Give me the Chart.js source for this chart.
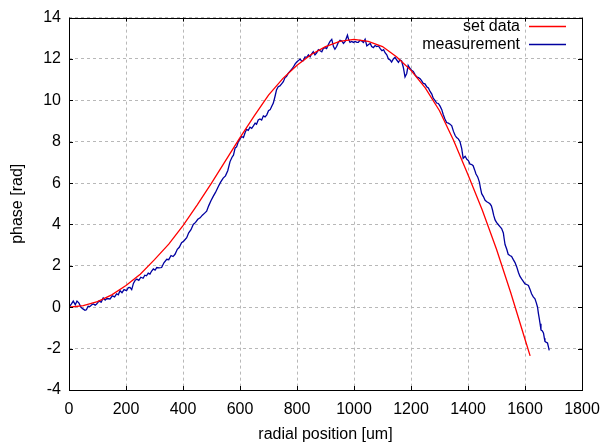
<!doctype html>
<html>
<head>
    <meta charset="utf-8">
    <title>phase</title>
    <script src="https://cdn.jsdelivr.net/npm/chart.js"></script>
    <style>
        body { margin: 0; background: #fff; }
    </style>
</head>
<body>
<canvas id="myChart" width="610" height="446"></canvas>

<script>
    // set data (red)
    var setX = [0, 50, 100, 150, 200, 250, 300, 350, 400, 450, 500, 550, 600, 650, 700, 750, 800, 850, 900, 950,
        1000, 1050, 1100, 1150, 1200, 1250, 1300, 1350, 1400, 1450, 1500, 1550, 1600, 1618];
    var setY = [0, 0.08, 0.27, 0.6, 1.05, 1.6, 2.3, 3.05, 3.95, 4.95, 6.0, 7.1, 8.2, 9.25, 10.25, 11.05, 11.7, 12.22, 12.6, 12.85,
        12.95, 12.85, 12.6, 12.1, 11.45, 10.6, 9.5, 8.05, 6.4, 4.7, 2.8, 0.7, -1.55, -2.35];

    // measurement (blue)
    var measX = [0, 8, 15, 22, 28, 35, 42, 49, 56, 61, 67, 73, 80, 85, 92, 97, 105, 113, 120, 127,
        133, 144, 152, 160, 167, 173, 179, 186, 193, 202, 208, 214, 220, 226, 232, 238, 245, 252, 260, 266,
        272, 278, 284, 290, 296, 302, 308, 316, 325, 333, 343, 350, 358, 365, 372, 380, 387, 395, 403, 413,
        420, 428, 436, 444, 452, 460, 468, 476, 483, 490, 498, 506, 514, 524, 532, 541, 549, 557, 565, 572,
        577, 583, 588, 594, 600, 606, 612, 618, 623, 629, 635, 641, 647, 653, 658, 664, 670, 676, 682, 688,
        694, 700, 706, 711, 717, 723, 728, 734, 740, 746, 752, 758, 763, 769, 775, 781, 787, 793, 799, 805,
        811, 816, 822, 828, 834, 840, 846, 851, 857, 863, 869, 875, 881, 887, 892, 898, 904, 910, 916, 922,
        928, 933, 939, 945, 951, 957, 963, 969, 973, 977, 981, 986, 992, 998, 1004, 1010, 1015, 1021, 1027, 1033,
        1039, 1045, 1051, 1057, 1062, 1068, 1074, 1080, 1086, 1092, 1098, 1104, 1109, 1115, 1121, 1127, 1132, 1138, 1144, 1150,
        1156, 1161, 1167, 1173, 1179, 1185, 1190, 1196, 1202, 1208, 1214, 1220, 1226, 1232, 1237, 1243, 1249, 1255, 1261, 1267,
        1273, 1278, 1284, 1290, 1296, 1302, 1308, 1313, 1319, 1325, 1331, 1337, 1343, 1349, 1355, 1360, 1366, 1372, 1378, 1383,
        1390, 1396, 1401, 1407, 1413, 1418, 1423, 1428, 1434, 1440, 1444, 1448, 1454, 1460, 1466, 1472, 1477, 1482, 1486, 1490,
        1495, 1500, 1506, 1512, 1518, 1524, 1527, 1530, 1536, 1541, 1547, 1553, 1559, 1565, 1571, 1577, 1582, 1588, 1594, 1600,
        1606, 1612, 1618, 1623, 1629, 1635, 1640, 1644, 1647, 1650, 1653, 1656, 1661, 1665, 1668, 1670, 1675, 1679, 1682, 1685];
    var measY = [0, 0.15, 0.3, 0.12, 0.3, 0.2, 0.0, -0.08, -0.15, -0.12, 0.05, 0.03, 0.12, 0.16, 0.1, 0.15, 0.3, 0.25, 0.45, 0.35,
        0.42, 0.4, 0.55, 0.5, 0.65, 0.6, 0.8, 0.7, 0.85, 0.8, 0.95, 0.96, 0.85, 1.15, 1.3, 1.36, 1.3, 1.45, 1.4, 1.55,
        1.52, 1.65, 1.6, 1.75, 1.85, 1.8, 1.92, 1.9, 1.92, 2.15, 2.32, 2.3, 2.5, 2.45, 2.56, 2.8, 2.9, 3.12, 3.2, 3.36,
        3.6, 3.75, 4.0, 4.1, 4.25, 4.32, 4.45, 4.55, 4.64, 4.9, 5.15, 5.36, 5.55, 5.84, 6.05, 6.24, 6.35, 6.6, 7.04, 7.25,
        7.35, 7.7, 7.75, 8.0, 8.14, 8.25, 8.2, 8.45, 8.6, 8.55, 8.7, 8.65, 8.77, 8.9, 8.85, 9.05, 9.1, 9.05, 9.25, 9.2,
        9.3, 9.5, 9.55, 9.7, 9.87, 10.2, 10.5, 10.66, 10.7, 10.8, 10.9, 11.1, 11.15, 11.3, 11.4, 11.5, 11.6, 11.75, 11.85, 11.92,
        12.0, 11.9, 11.92, 12.1, 12.08, 12.2, 12.1, 12.24, 12.35, 12.2, 12.3, 12.45, 12.4, 12.35, 12.5, 12.55, 12.5, 12.7, 12.85, 12.95,
        12.6, 12.47, 12.6, 12.8, 12.9, 12.87, 12.75, 12.85, 13.0, 13.15, 12.95, 12.8, 12.85, 12.8, 12.85, 12.8, 12.8, 12.9, 12.87, 12.8,
        12.95, 12.63, 12.7, 12.75, 12.6, 12.55, 12.65, 12.6, 12.63, 12.5, 12.4, 12.45, 12.3, 12.2, 12.0, 11.95, 11.85, 12.0, 12.08, 11.95,
        11.84, 11.95, 11.9, 11.6, 11.13, 11.3, 11.69, 11.55, 11.45, 11.4, 11.25, 11.13, 11.1, 11.05, 10.95, 10.82, 10.8, 10.66, 10.6, 10.43,
        10.3, 10.1, 10.0, 9.87, 9.85, 9.72, 9.55, 9.32, 9.1, 8.93, 8.9, 8.85, 8.77, 8.5, 8.3, 8.2, 8.14, 8.0, 7.67, 7.2,
        7.3, 7.15, 7.1, 6.92, 6.9, 6.84, 6.65, 6.44, 6.3, 6.05, 5.75, 5.49, 5.35, 5.17, 5.1, 5.05, 5.0, 4.9, 4.7, 4.45,
        4.22, 4.1, 4.0, 3.9, 3.8, 3.59, 3.3, 3.03, 2.8, 2.56, 2.5, 2.45, 2.3, 2.16, 1.95, 1.68, 1.5, 1.37, 1.25, 1.13,
        1.1, 1.05, 0.85, 0.65, 0.5, 0.41, 0.2, 0.0, -0.3, -0.54, -0.8, -1.1, -1.15, -1.25, -1.5, -1.65, -1.7, -1.73, -1.9, -2.08];

    var xTicks = [0, 200, 400, 600, 800, 1000, 1200, 1400, 1600, 1800];
    var yTicks = [-4, -2, 0, 2, 4, 6, 8, 10, 12, 14];

    var fontFamily = '"Liberation Sans", Arial, sans-serif';
    var fontSize = 16;

    function toPoints(xs, ys) {
        var pts = [];
        for (var i = 0; i < xs.length; i++) {
            pts.push({x: xs[i], y: ys[i]});
        }
        return pts;
    }

    // gnuplot style frame, inward ticks on all four sides, key in the top right
    var framePlugin = {
        id: 'frame',
        afterDatasetsDraw: function (chart) {
            var ctx = chart.ctx;
            var a = chart.chartArea;
            var xs = chart.scales.x, ys = chart.scales.y;
            var len = 4;
            ctx.save();
            ctx.strokeStyle = '#000';
            ctx.lineWidth = 1;
            ctx.beginPath();
            xTicks.forEach(function (v) {
                var px = Math.round(xs.getPixelForValue(v)) + 0.5;
                ctx.moveTo(px, a.bottom); ctx.lineTo(px, a.bottom - len);
                ctx.moveTo(px, a.top); ctx.lineTo(px, a.top + len);
            });
            yTicks.forEach(function (v) {
                var py = Math.round(ys.getPixelForValue(v)) + 0.5;
                ctx.moveTo(a.left, py); ctx.lineTo(a.left + len, py);
                ctx.moveTo(a.right, py); ctx.lineTo(a.right - len, py);
            });
            ctx.stroke();
            ctx.strokeRect(Math.round(a.left) + 0.5, Math.round(a.top) + 0.5,
                Math.round(a.right - a.left), Math.round(a.bottom - a.top));

            // key
            ctx.font = fontSize + 'px ' + fontFamily;
            ctx.textAlign = 'right';
            ctx.textBaseline = 'middle';
            chart.data.datasets.forEach(function (ds, i) {
                var y = 26 + i * 18;
                ctx.fillStyle = '#000';
                ctx.fillText(ds.label, 520, y + 1);
                ctx.strokeStyle = ds.borderColor;
                ctx.lineWidth = 1.3;
                ctx.beginPath();
                ctx.moveTo(529, y + 0.5);
                ctx.lineTo(566, y + 0.5);
                ctx.stroke();
            });
            ctx.restore();
        }
    };

    var plainTick = function (value) {
        return String(value);
    };

    var myChart = new Chart(document.getElementById('myChart'), {
        type: 'scatter',
        data: {
            datasets: [{
                label: 'set data',
                data: toPoints(setX, setY),
                showLine: true,
                borderColor: 'rgb(255,0,0)',
                borderWidth: 1.3,
                pointRadius: 0,
                tension: 0
            }, {
                label: 'measurement',
                data: toPoints(measX, measY),
                showLine: true,
                borderColor: 'rgb(0,0,160)',
                borderWidth: 1.3,
                pointRadius: 0,
                tension: 0
            }]
        },
        options: {
            responsive: false,
            animation: false,
            events: [],
            layout: {
                padding: {left: 0, top: 14, right: 28, bottom: 0}
            },
            plugins: {
                legend: {display: false},
                tooltip: {enabled: false}
            },
            scales: {
                x: {
                    type: 'linear',
                    min: 0,
                    max: 1800,
                    afterBuildTicks: function (scale) {
                        scale.ticks = xTicks.map(function (v) { return {value: v}; });
                    },
                    afterFit: function (scale) { scale.height = 56; },
                    border: {display: false, dash: [3, 3]},
                    grid: {
                        color: '#b8b8b8',
                        lineWidth: 1,
                        drawTicks: false
                    },
                    ticks: {
                        color: '#000',
                        padding: 10,
                        maxRotation: 0,
                        callback: plainTick,
                        font: {family: fontFamily, size: fontSize}
                    },
                    title: {
                        display: true,
                        text: 'radial position [um]',
                        color: '#000',
                        padding: {top: 0, bottom: 2},
                        font: {family: fontFamily, size: fontSize}
                    }
                },
                y: {
                    type: 'linear',
                    min: -4,
                    max: 14,
                    afterBuildTicks: function (scale) {
                        scale.ticks = yTicks.map(function (v) { return {value: v}; });
                    },
                    afterFit: function (scale) { scale.width = 69; },
                    border: {display: false, dash: [3, 3]},
                    grid: {
                        color: '#b8b8b8',
                        lineWidth: 1,
                        drawTicks: false
                    },
                    ticks: {
                        color: '#000',
                        padding: 8,
                        callback: plainTick,
                        font: {family: fontFamily, size: fontSize}
                    },
                    title: {
                        display: true,
                        text: 'phase [rad]',
                        color: '#000',
                        padding: {top: 8, bottom: 0},
                        font: {family: fontFamily, size: fontSize}
                    }
                }
            }
        },
        plugins: [framePlugin]
    });
</script>
</body>
</html>
